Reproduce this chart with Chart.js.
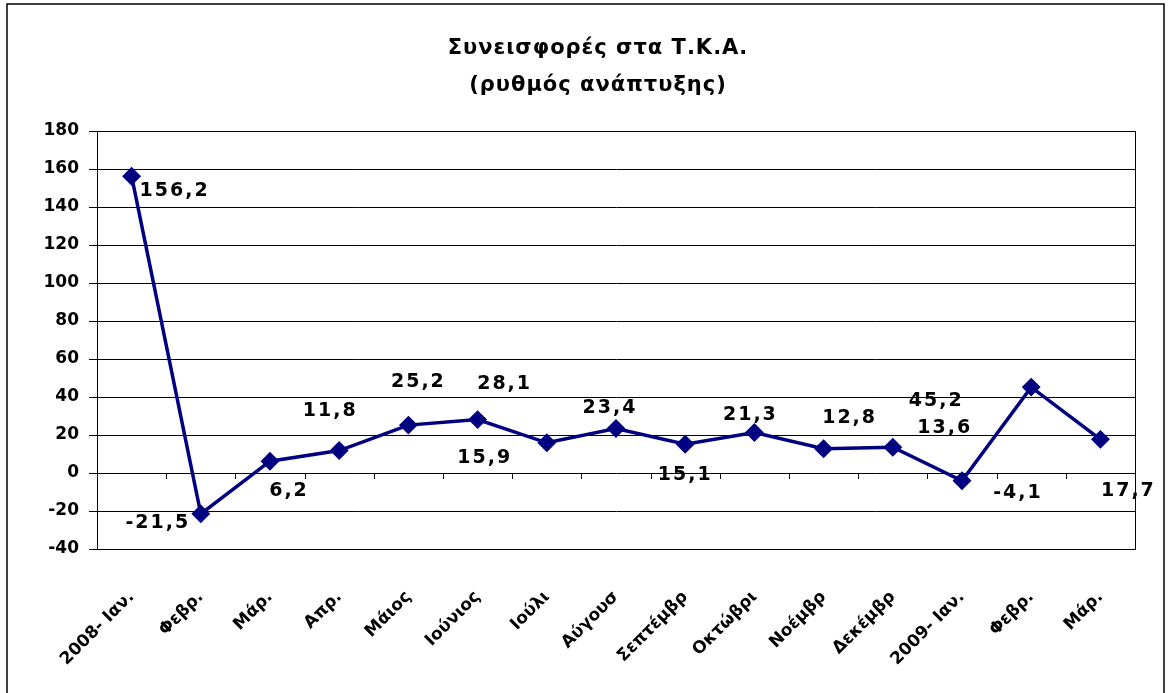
<!DOCTYPE html>
<html>
<head>
<meta charset="utf-8">
<script src="https://cdn.jsdelivr.net/npm/chart.js@4.4.0/dist/chart.umd.min.js"></script>
<style>
    body { margin: 0; background: #fff; }
    #wrap { width: 1171px; height: 693px; position: relative; }
</style>
</head>
<body>
<div id="wrap"><canvas id="tkaChart"></canvas></div>
<script>
// Data
const months = ['2008- Ιαν.', 'Φεβρ.', 'Μάρ.', 'Απρ.', 'Μάιος', 'Ιούνιος', 'Ιούλι', 'Αύγουσ',
    'Σεπτέμβρ', 'Οκτώβρι', 'Νοέμβρ', 'Δεκέμβρ', '2009- Ιαν.', 'Φεβρ.', 'Μάρ.'];
const growth = [156.2, -21.5, 6.2, 11.8, 25.2, 28.1, 15.9, 23.4, 15.1, 21.3, 12.8, 13.6, -4.1, 45.2, 17.7];
const yTicks = [180, 160, 140, 120, 100, 80, 60, 40, 20, 0, -20, -40];
const titleLines = ['Συνεισφορές στα Τ.Κ.Α.', '(ρυθμός ανάπτυξης)'];

// where each value label sits relative to its marker (px)
const labelOffsets = [[43, 15], [-43, 9], [19, 30], [-9, -40], [10, -43], [27, -36], [-62, 15], [-6, -20],
    [0, 31], [-4, -17], [26, -31], [52, -19], [56, 12], [-95, 14], [28, 52]];

const FONT = '"DejaVu Sans", sans-serif';

// outer frame, title and plot border
const framePlugin = {
    id: 'frame',
    beforeDraw(chart) {
        const c = chart.ctx;
        c.save();
        c.fillStyle = '#fff';
        c.fillRect(0, 0, chart.width, chart.height);
        c.strokeStyle = '#000';
        c.lineWidth = 1.5;
        c.strokeRect(7, 4, 1157, 720);
        c.restore();
    },
    afterDraw(chart) {
        const c = chart.ctx;
        const a = chart.chartArea;
        c.save();
        c.fillStyle = '#000';
        c.font = 'bold 21px ' + FONT;
        c.letterSpacing = '1px';
        c.textAlign = 'center';
        c.textBaseline = 'middle';
        c.fillText(titleLines[0], 598, 49);
        c.fillText(titleLines[1], 598, 86);
        c.letterSpacing = '0px';
        c.strokeStyle = '#000';
        c.lineWidth = 1;
        c.strokeRect(a.left + 0.5, a.top + 0.5, a.right - a.left, a.bottom - a.top);
        // category tick marks sit on the zero line
        const xs = chart.scales.x;
        const y0 = chart.scales.y.getPixelForValue(0);
        c.beginPath();
        for (let i = 0; i <= months.length; i++) {
            const x = Math.round(xs.left + (xs.right - xs.left) * i / months.length) + 0.5;
            c.moveTo(x, y0);
            c.lineTo(x, y0 + 6);
        }
        c.stroke();
        c.restore();
    },
    afterDatasetsDraw(chart) {
        const c = chart.ctx;
        const meta = chart.getDatasetMeta(0);
        c.save();
        c.fillStyle = '#000';
        c.font = 'bold 19px ' + FONT;
        c.letterSpacing = '2px';
        c.textAlign = 'center';
        c.textBaseline = 'middle';
        meta.data.forEach((pt, i) => {
            const txt = growth[i].toFixed(1).replace('.', ',');
            c.fillText(txt, pt.x + labelOffsets[i][0], pt.y + labelOffsets[i][1]);
        });
        c.restore();
    }
};

const ctx = document.getElementById('tkaChart').getContext('2d');
const tkaChart = new Chart(ctx, {
    type: 'line',
    data: {
        labels: months,
        datasets: [{
            data: growth,
            borderColor: '#000080',
            backgroundColor: '#000080',
            borderWidth: 3.5,
            pointStyle: 'rectRot',
            pointRadius: 7,
            pointHoverRadius: 7,
            tension: 0
        }]
    },
    options: {
        responsive: true,
        maintainAspectRatio: false,
        animation: false,
        layout: { padding: { left: 0, right: 36, top: 131, bottom: 0 } },
        plugins: {
            legend: { display: false },
            tooltip: { enabled: false }
        },
        scales: {
            y: {
                min: -40,
                max: 180,
                afterBuildTicks(scale) {
                    scale.ticks = yTicks.map(v => ({ value: v }));
                },
                afterFit(scale) { scale.width = 97; },
                grid: {
                    color: '#000',
                    lineWidth: 1,
                    tickLength: 8,
                    drawTicks: true
                },
                border: { display: true, color: '#000' },
                ticks: {
                    color: '#000',
                    padding: 10,
                    font: { family: FONT, size: 17, weight: 'bold' }
                }
            },
            x: {
                offset: true,
                afterFit(scale) { scale.height = 144; },
                grid: { display: false, drawTicks: false },
                border: { display: true, color: '#000' },
                ticks: {
                    color: '#000',
                    padding: 38,
                    maxRotation: 45,
                    minRotation: 45,
                    autoSkip: false,
                    font: { family: FONT, size: 17, weight: 'bold' }
                }
            }
        }
    },
    plugins: [framePlugin]
});
</script>
</body>
</html>
